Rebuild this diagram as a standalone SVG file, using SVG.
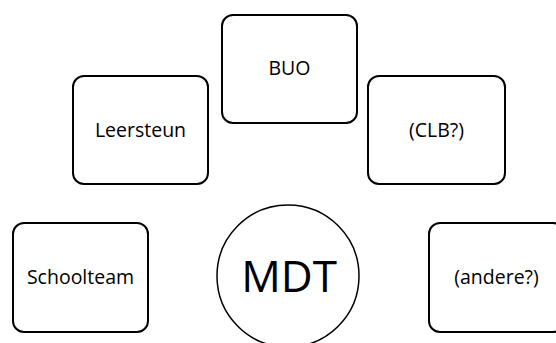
<svg xmlns="http://www.w3.org/2000/svg" width="556" height="343" viewBox="0 0 556 343">
<style>
.box{fill:#fff;stroke:#000;stroke-width:2}
.circ{fill:#fff;stroke:#000;stroke-width:1.5}
.lbl{font-family:"Open Sans","Noto Sans",sans-serif;font-size:19.5px;fill:#000;text-anchor:middle}
.big{font-family:"Open Sans","Noto Sans",sans-serif;font-size:44px;fill:#000;text-anchor:middle}
</style>
<rect width="556" height="343" fill="#fff"/>
<g id="connectors"></g>
<g id="buo"><rect class="box" x="222" y="15" width="135" height="108" rx="11"/><text class="lbl" x="289.5" y="75">BUO</text></g>
<g id="leersteun"><rect class="box" x="73" y="76" width="135" height="108" rx="11"/><text class="lbl" x="140.5" y="137">Leersteun</text></g>
<g id="clb"><rect class="box" x="368" y="76" width="137" height="108" rx="11"/><text class="lbl" x="436.5" y="137">(CLB?)</text></g>
<g id="schoolteam"><rect class="box" x="13" y="223" width="135" height="109" rx="11"/><text class="lbl" x="80.5" y="284">Schoolteam</text></g>
<g id="andere"><rect class="box" x="429" y="223" width="135" height="109" rx="11"/><text class="lbl" x="496.5" y="284">(andere?)</text></g>
<g id="mdt"><circle class="circ" cx="288" cy="276" r="71"/><text class="big" x="289" y="292">MDT</text></g>
</svg>
